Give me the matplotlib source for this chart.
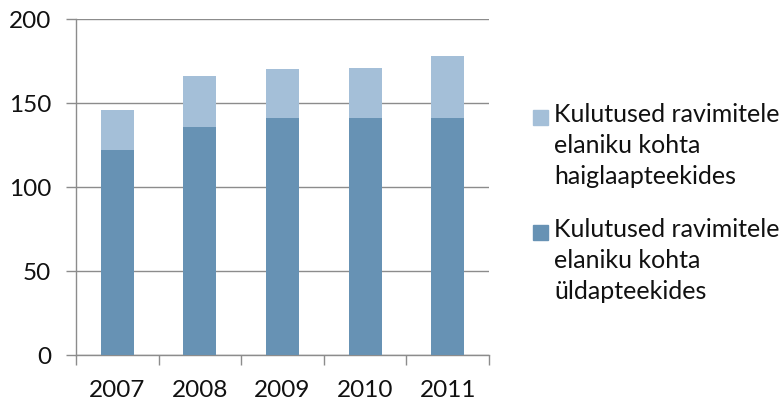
import matplotlib.pyplot as plt
from matplotlib.patches import Rectangle
import numpy as np

years = ["2007", "2008", "2009", "2010", "2011"]
uld = [122, 136, 141, 141, 141]
haigla = [24, 30, 29, 30, 37]
label_haigla = "Kulutused ravimitele\nelaniku kohta\nhaiglaapteekides"
label_uld = "Kulutused ravimitele\nelaniku kohta\nüldapteekides"

plt.rcParams['font.family'] = ['Lato', 'DejaVu Sans']
c_uld = "#6792b4"
c_haigla = "#a4bfd8"

fig = plt.figure(figsize=(7.81, 4.01), dpi=100)
ax = fig.add_axes([76 / 781, 1 - 355 / 401, 413 / 781, 336 / 401])

x = np.arange(len(years))
ax.bar(x, uld, width=0.4, color=c_uld, zorder=3)
ax.bar(x, haigla, width=0.4, bottom=uld, color=c_haigla, zorder=3)

ax.set_xlim(-0.5, len(years) - 0.5)
ax.set_ylim(0, 200)
ax.set_yticks([0, 50, 100, 150, 200])
ax.grid(axis="y", color="#8c8c8c", linewidth=1, zorder=0)
ax.set_xticks(x)
ax.set_xticklabels(years)
ax.set_xticks(np.arange(len(years) + 1) - 0.5, minor=True)
ax.tick_params(axis="x", which="major", length=0, pad=18, labelsize=17.5, labelcolor="#111111")
ax.tick_params(axis="x", which="minor", length=7, color="#8c8c8c", width=1)
ax.tick_params(axis="y", length=7, color="#8c8c8c", width=1, labelsize=17.5, pad=11,
               labelcolor="#111111")

for s in ["top", "right"]:
    ax.spines[s].set_visible(False)
for s in ["left", "bottom"]:
    ax.spines[s].set_color("#8c8c8c")
    ax.spines[s].set_linewidth(1)

# legend drawn by hand so the square sits by the first line
for y0, col, lab in [(110, c_haigla, label_haigla), (225, c_uld, label_uld)]:
    fig.patches.append(Rectangle((533 / 781, 1 - (y0 + 15) / 401), 15 / 781, 15 / 401,
                                 transform=fig.transFigure, color=col))
    fig.text(554 / 781, 1 - (y0 - 7) / 401, lab, ha="left", va="top", fontsize=18,
             linespacing=1.42, color="#111111")

fig.savefig("out.png", dpi=100)
